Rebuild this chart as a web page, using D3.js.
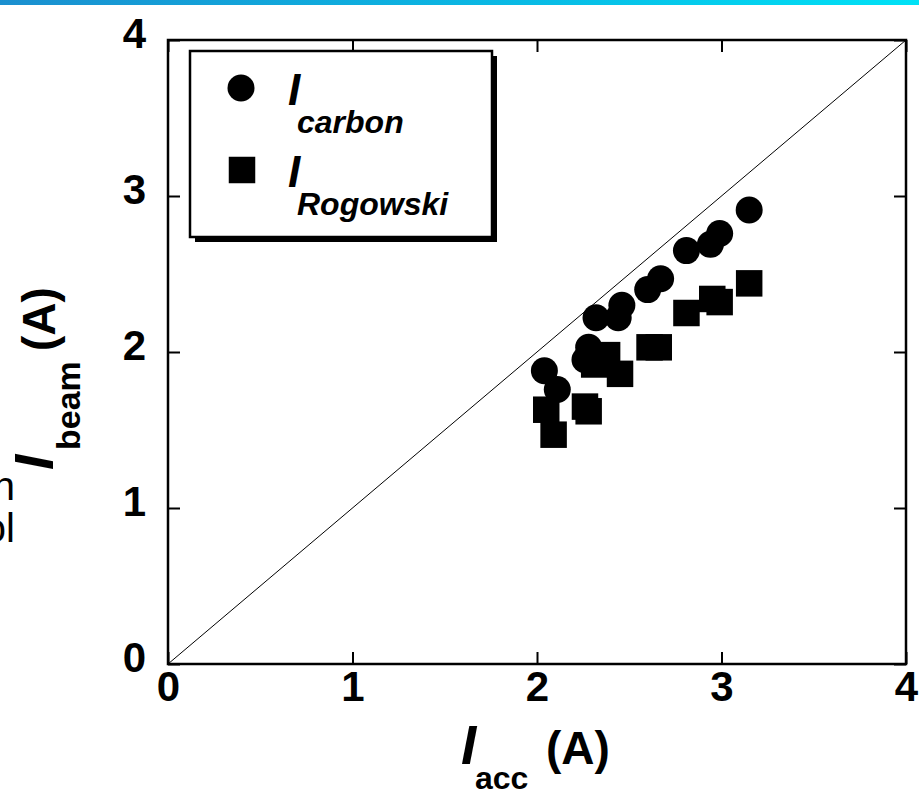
<!DOCTYPE html>
<html>
<head>
<meta charset="utf-8">
<script src="https://cdn.jsdelivr.net/npm/d3@7"></script>
<style>
  html, body { margin: 0; padding: 0; background: #fff; }
  svg { display: block; }
</style>
</head>
<body>
<svg id="chart" width="919" height="794"></svg>
<script>
// Beam current measured by carbon target and Rogowski coil vs. accelerator current
const carbonX   = [2.04, 2.11, 2.26, 2.28, 2.32, 2.44, 2.46, 2.60, 2.67, 2.81, 2.94, 2.99, 3.15];
const carbonY   = [1.88, 1.76, 1.95, 2.03, 2.22, 2.22, 2.30, 2.40, 2.47, 2.65, 2.69, 2.76, 2.91];
const rogowskiX = [2.05, 2.09, 2.26, 2.28, 2.31, 2.38, 2.45, 2.61, 2.66, 2.81, 2.95, 2.99, 3.15];
const rogowskiY = [1.63, 1.47, 1.65, 1.62, 1.92, 1.98, 1.86, 2.03, 2.03, 2.25, 2.34, 2.32, 2.44];
const xTicks = [0, 1, 2, 3, 4];
const yTicks = [0, 1, 2, 3, 4];

const svg = d3.select("#chart");
const FONT = "'Liberation Sans', Arial, Helvetica, sans-serif";

// header strip
const defs = svg.append("defs");
const grad = defs.append("linearGradient").attr("id", "strip").attr("x1", 0).attr("x2", 1);
grad.append("stop").attr("offset", "0%").attr("stop-color", "#1b8fcf");
grad.append("stop").attr("offset", "60%").attr("stop-color", "#08bde6");
grad.append("stop").attr("offset", "100%").attr("stop-color", "#00e2f6");
svg.append("rect").attr("x", 0).attr("y", 0).attr("width", 919).attr("height", 5)
  .attr("fill", "url(#strip)");

// cut-off text at left edge
svg.append("text").attr("x", 15).attr("y", 500).attr("text-anchor", "end")
  .attr("font-family", FONT).attr("font-size", 40).text("n");
svg.append("text").attr("x", 15).attr("y", 542).attr("text-anchor", "end")
  .attr("font-family", FONT).attr("font-size", 40).text("ol");

const x = d3.scaleLinear().domain([0, 4]).range([168, 906]);
const y = d3.scaleLinear().domain([0, 4]).range([664, 40]);

const TICK = 12;

// axes with inward ticks
const gx = svg.append("g").attr("transform", `translate(0,${y(0)})`)
  .call(d3.axisBottom(x).tickValues(xTicks).tickFormat(d3.format("d"))
    .tickSizeInner(-TICK).tickSizeOuter(0));
gx.selectAll("text").attr("y", 37).attr("dy", 0);

const gy = svg.append("g").attr("transform", `translate(${x(0)},0)`)
  .call(d3.axisLeft(y).tickValues(yTicks).tickFormat(d3.format("d"))
    .tickSizeInner(-TICK).tickSizeOuter(0));
gy.selectAll("text").attr("x", -22).attr("dy", 7);

const gt = svg.append("g").attr("transform", `translate(0,${y(4)})`)
  .call(d3.axisTop(x).tickValues(xTicks).tickFormat("").tickSizeInner(-TICK).tickSizeOuter(0));
const gr = svg.append("g").attr("transform", `translate(${x(4)},0)`)
  .call(d3.axisRight(y).tickValues(yTicks).tickFormat("").tickSizeInner(-TICK).tickSizeOuter(0));

[gx, gy, gt, gr].forEach(g => {
  g.select(".domain").remove();
  g.selectAll("line").attr("stroke", "#000").attr("stroke-width", 2);
  g.selectAll("text").attr("font-family", FONT).attr("font-size", 42)
    .attr("font-weight", "bold").attr("fill", "#000");
});

// frame
svg.append("rect").attr("x", x(0)).attr("y", y(4))
  .attr("width", x(4) - x(0)).attr("height", y(0) - y(4))
  .attr("fill", "none").attr("stroke", "#000").attr("stroke-width", 2.5);

// y = x reference line
svg.append("line").attr("x1", x(0)).attr("y1", y(0)).attr("x2", x(4)).attr("y2", y(4))
  .attr("stroke", "#000").attr("stroke-width", 1);

// data markers
const circleSym = d3.symbol().type(d3.symbolCircle).size(Math.PI * 13.5 * 13.5);
const squareSym = d3.symbol().type(d3.symbolSquare).size(26.5 * 26.5);

svg.append("g").selectAll("path").data(rogowskiX.map((v, i) => [v, rogowskiY[i]]))
  .join("path").attr("d", squareSym)
  .attr("transform", d => `translate(${x(d[0])},${y(d[1])})`).attr("fill", "#000");

svg.append("g").selectAll("path").data(carbonX.map((v, i) => [v, carbonY[i]]))
  .join("path").attr("d", circleSym)
  .attr("transform", d => `translate(${x(d[0])},${y(d[1])})`).attr("fill", "#000");

// legend
const lg = svg.append("g");
lg.append("rect").attr("x", 195).attr("y", 56).attr("width", 302).attr("height", 186).attr("fill", "#000");
lg.append("rect").attr("x", 190).attr("y", 51).attr("width", 302).attr("height", 186)
  .attr("fill", "#fff").attr("stroke", "#000").attr("stroke-width", 2.5);
lg.append("path").attr("d", circleSym).attr("transform", "translate(241,88)");
lg.append("path").attr("d", squareSym).attr("transform", "translate(242,170)");

function legendLabel(yI, ySub, sub) {
  lg.append("text").attr("x", 288).attr("y", yI).attr("font-family", FONT)
    .attr("font-size", 44).attr("font-weight", "bold").attr("font-style", "italic").text("I");
  lg.append("text").attr("x", 297).attr("y", ySub).attr("font-family", FONT)
    .attr("font-size", 32).attr("font-weight", "bold").attr("font-style", "italic").text(sub);
}
legendLabel(105, 133, "carbon");
legendLabel(187, 215, "Rogowski");

// x axis title
const xt = svg.append("g").attr("font-family", FONT).attr("font-weight", "bold");
xt.append("text").attr("x", 461).attr("y", 764).attr("font-size", 55).attr("font-style", "italic").text("I");
xt.append("text").attr("x", 475).attr("y", 789).attr("font-size", 32).text("acc");
xt.append("text").attr("x", 546).attr("y", 764).attr("font-size", 46).text("(A)");

// y axis title
const yt = svg.append("g").attr("font-family", FONT).attr("font-weight", "bold")
  .attr("transform", "translate(53,470) rotate(-90)");
yt.append("text").attr("x", 0).attr("y", 0).attr("font-size", 55).attr("font-style", "italic").text("I");
yt.append("text").attr("x", 20).attr("y", 27).attr("font-size", 34).text("beam");
yt.append("text").attr("x", 119).attr("y", 2).attr("font-size", 46).text("(A)");
</script>
</body>
</html>
